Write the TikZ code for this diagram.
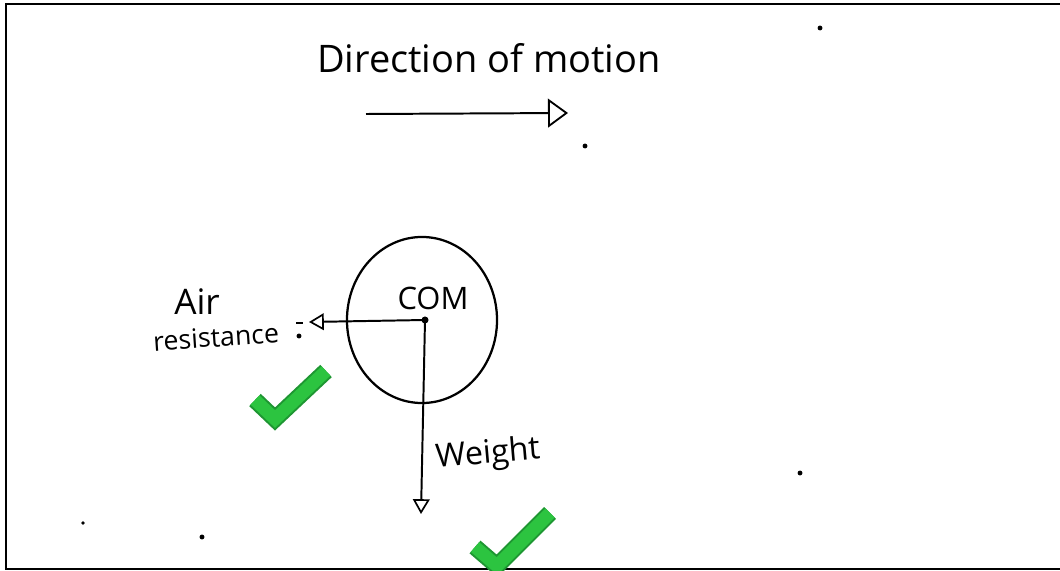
\documentclass[tikz,border=0pt]{standalone}
\usepackage{fontspec}
\setmainfont{Open Sans}
\usetikzlibrary{arrows.meta,shapes.geometric}
\definecolor{chkin}{RGB}{44,196,64}
\definecolor{chkout}{RGB}{30,150,50}
\tikzset{
  ink/.style={draw=black, line width=1.4pt},
  hand/.style={inner sep=0pt, text=black},
  speck/.style={fill=black, circle, inner sep=0pt, minimum size=3.5pt},
  bigtip/.style={-{Triangle[open,length=0.5cm,width=0.72cm,line width=1.3pt]}},
  smalltip/.style={-{Triangle[open,length=0.37cm,width=0.42cm,line width=1.2pt]}},
  chkouter/.style={draw=chkout, line width=0.42cm, line cap=butt, line join=miter},
  chkinner/.style={draw=chkin, line width=0.32cm, line cap=butt, line join=miter}
}
\begin{document}
\begin{tikzpicture}[x=0.025cm,y=-0.025cm]
\useasboundingbox (0,0) rectangle (1060,571);
\fill[white] (0,0) rectangle (1060,571);
% frame
\coordinate (fTL) at (6,4);
\coordinate (fTR) at (1060,4);
\coordinate (fBL) at (6,569);
\coordinate (fBR) at (1060,569);
\draw[line width=1.5pt] (fTR) -- (fTL) -- (fBL) -- (fBR);

% direction of motion
\node[hand, font=\fontsize{27}{31}\selectfont] (dirtxt) at (489,58) {Direction of motion};
\coordinate (motA) at (366,114);
\coordinate (motB) at (568,113);
\draw[ink, bigtip] (motA) -- (motB);

% ball
\node[ellipse, draw=black, line width=1.6pt, minimum width=3.75cm, minimum height=4.15cm, inner sep=0pt] (ball) at (422,320) {};
\node[hand, font=\fontsize{22}{26}\selectfont] (comtxt) at (433,298) {COM};
\coordinate (com) at (425,320);
\fill (com) circle (2.5pt);

% air resistance
\coordinate (airEnd) at (309,322);
\draw[ink, smalltip] (com) -- (airEnd);
\coordinate (dashA) at (296,323);
\coordinate (dashB) at (303,323);
\draw[line width=0.9pt] (dashA) -- (dashB);
\node[hand, font=\fontsize{25}{29}\selectfont] (airtxt) at (197,302) {Air};
\node[hand, font=\fontsize{19}{22}\selectfont, rotate=4] (restxt) at (216,337) {resistance};
\node[speck] (resdot) at (299,336) {};

% weight
\coordinate (wEnd) at (421,514);
\draw[ink, smalltip] (com) -- (wEnd);
\node[hand, font=\fontsize{23}{27}\selectfont, rotate=5] (wtxt) at (488,455) {Weight};

% specks
\node[speck] (s1) at (820,28) {};
\node[speck] (s2) at (585,146) {};
\node[speck] (s3) at (800,473) {};
\node[speck] (s4) at (202,537) {};
\node[speck, minimum size=2.5pt] (s5) at (83,523) {};

% check marks
\coordinate (c1a) at (255,400);
\coordinate (c1b) at (275,419);
\coordinate (c1c) at (326,371);
\draw[chkouter] (c1a) -- (c1b) -- (c1c);
\draw[chkinner] (c1a) -- (c1b) -- (c1c);
\coordinate (c2a) at (475,547);
\coordinate (c2b) at (497,566);
\coordinate (c2c) at (550,513);
\draw[chkouter] (c2a) -- (c2b) -- (c2c);
\draw[chkinner] (c2a) -- (c2b) -- (c2c);
\end{tikzpicture}
\end{document}
